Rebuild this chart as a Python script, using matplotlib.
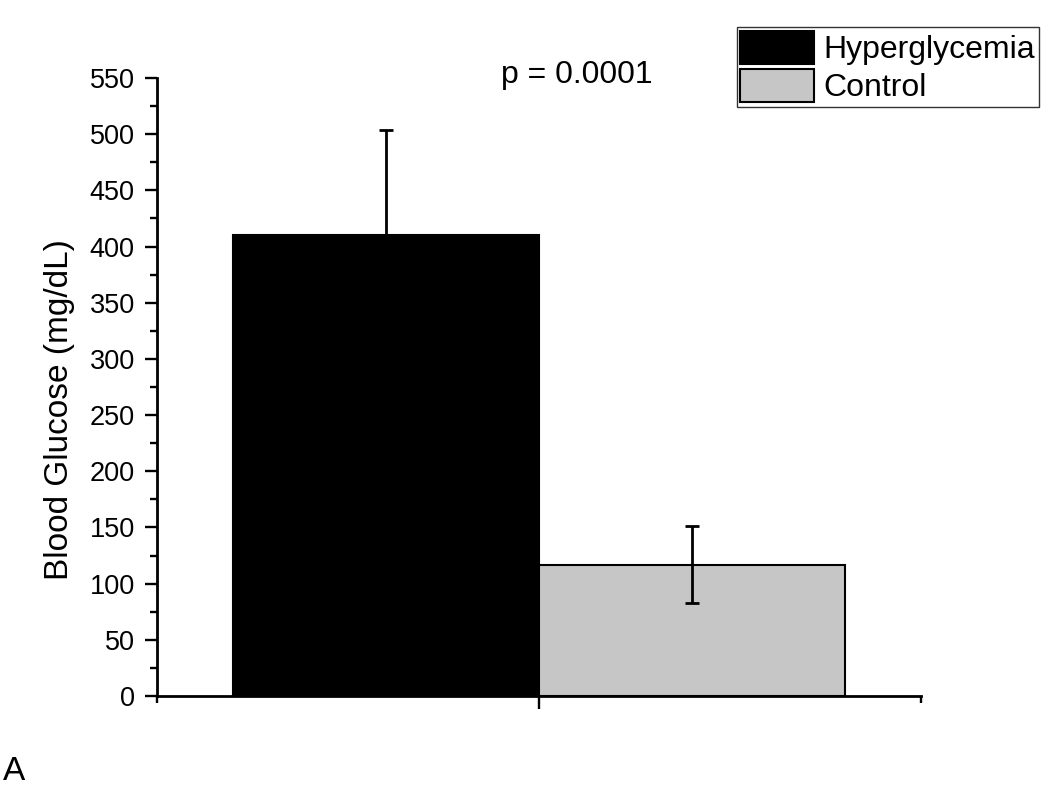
import matplotlib
matplotlib.use('Agg')
import matplotlib.pyplot as plt
from matplotlib.patches import Patch
from matplotlib.ticker import MultipleLocator, FixedLocator

plt.rcParams['font.family'] = ['Liberation Sans', 'DejaVu Sans']

# data
groups = ['Hyperglycemia', 'Control']
means = [410, 117]
errors = [94, 34]
colors = ['#000000', '#c6c6c6']
p_text = 'p = 0.0001'

fig = plt.figure(figsize=(10.5, 7.91), dpi=100)
ax = fig.add_axes([0.1495, 0.1201, 0.7276, 0.7813])

positions = [0.6, 1.4]
ax.bar(positions, means, width=0.8, color=colors, edgecolor='black', linewidth=1.5, zorder=2)
ax.errorbar(positions, means, yerr=errors, fmt='none',
            ecolor='black', elinewidth=2, capsize=5, capthick=2, zorder=3)

ax.set_xlim(0, 2)
ax.set_ylim(0, 550)
ax.yaxis.set_major_locator(MultipleLocator(50))
ax.yaxis.set_minor_locator(MultipleLocator(25))
ax.xaxis.set_major_locator(FixedLocator([1]))
ax.xaxis.set_minor_locator(FixedLocator([0, 2]))
ax.set_xticklabels([])

for s in ['top', 'right']:
    ax.spines[s].set_visible(False)
for s in ['left', 'bottom']:
    ax.spines[s].set_linewidth(2)

ax.tick_params(axis='both', which='major', length=9, width=1.7, labelsize=19.5, pad=7)
ax.tick_params(axis='both', which='minor', length=5, width=1.7)

ax.set_ylabel('Blood Glucose (mg/dL)', fontsize=24)
ax.yaxis.set_label_coords(-0.107, 0.464)

ax.text(0.55, 1.005, p_text, transform=ax.transAxes, fontsize=23,
        ha='center', va='center')

handles = [Patch(facecolor=c, edgecolor='black', linewidth=1.5) for c in colors]
leg = fig.legend(handles, groups, loc='upper right', bbox_to_anchor=(1039 / 1050, 1 - 27 / 791),
                 fontsize=23, frameon=True, fancybox=False, edgecolor='black',
                 handlelength=2.3, handleheight=1.2, handletextpad=0.3,
                 labelspacing=0.12, borderpad=0.12, borderaxespad=0)
leg.get_frame().set_linewidth(1.0)

fig.text(0.003, 0.005, 'A', fontsize=24, ha='left', va='bottom')

fig.savefig('out.png', dpi=100)
